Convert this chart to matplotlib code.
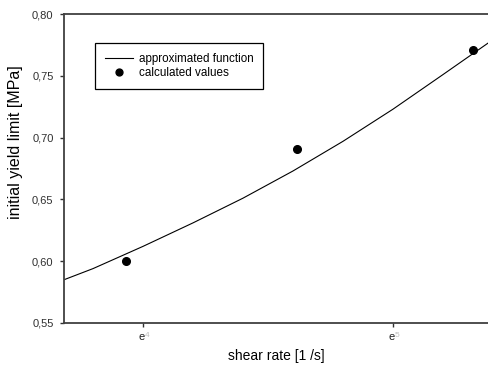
import numpy as np
import matplotlib
matplotlib.use("Agg")
import matplotlib.pyplot as plt
from matplotlib.ticker import NullLocator

plt.rcParams['font.family'] = ['Liberation Sans', 'DejaVu Sans']

# calculated values (shear rate in 1/s, initial yield limit in MPa)
shear_rate = [51.0, 101.0, 204.0]
yield_limit = [0.600, 0.691, 0.771]

# approximated function (ln of shear rate, value)
curve_ln_rate = [3.684, 3.8, 4.0, 4.2, 4.4, 4.6, 4.8, 5.0, 5.2, 5.384]
curve_value = [0.585, 0.594, 0.612, 0.631, 0.651, 0.673, 0.697, 0.723, 0.751, 0.777]

x_tick_exponents = [4, 5]
y_ticks = [0.55, 0.60, 0.65, 0.70, 0.75, 0.80]
y_tick_labels = ['0,55', '0,60', '0,65', '0,70', '0,75', '0,80']

fig = plt.figure(figsize=(4.89, 3.65), dpi=100)
ax = fig.add_axes([64/489, 1-323/365, 1-64/489, (323-14)/365])

curve_x = np.exp(curve_ln_rate)
ax.plot(curve_x, curve_value, color='black', lw=0.8, label='approximated function')
ax.plot(shear_rate, yield_limit, 'o', color='black', ms=5.5, label='calculated values')

ax.set_xscale('log', base=np.e)
ax.set_xlim(np.exp(3.684), np.exp(5.384))
ax.set_ylim(0.55, 0.80)

ax.set_yticks(y_ticks)
ax.set_yticklabels(y_tick_labels, fontsize=8)
xt = [np.exp(e) for e in x_tick_exponents]
ax.set_xticks(xt)
ax.set_xticklabels(['' for _ in xt])
ax.xaxis.set_minor_locator(NullLocator())
for e, x in zip(x_tick_exponents, xt):
    ax.annotate('e', xy=(x, 0), xycoords=('data', 'axes fraction'),
                xytext=(-1.2, -12.6), textcoords='offset points',
                fontsize=8, color='#202020', ha='center', va='baseline')
    ax.annotate(str(e), xy=(x, 0), xycoords=('data', 'axes fraction'),
                xytext=(3.2, -10.4), textcoords='offset points',
                fontsize=6, color='#c0c0c0', ha='center', va='baseline')

ax.tick_params(direction='out', length=3, width=1, colors='#303030')
ax.tick_params(axis='y', pad=4.5)

for side in ['left', 'bottom', 'top']:
    ax.spines[side].set_color('#404040')
    ax.spines[side].set_linewidth(1.3)
ax.spines['right'].set_visible(False)

ax.set_xlabel('shear rate [1 /s]', fontsize=10, labelpad=12)
ax.set_ylabel('initial yield limit [MPa]', fontsize=11.5)
ax.yaxis.set_label_coords(-0.097, 0.586)

leg = ax.legend(loc='upper left', bbox_to_anchor=(31/425, 1-29/309), fontsize=8.4,
                frameon=True, fancybox=False, edgecolor='black', framealpha=1,
                borderpad=0.85, handlelength=2.4, handletextpad=0.5, labelspacing=0.22,
                borderaxespad=0, markerscale=0.9)
leg.get_frame().set_linewidth(0.9)

fig.savefig('out.png', dpi=100)
